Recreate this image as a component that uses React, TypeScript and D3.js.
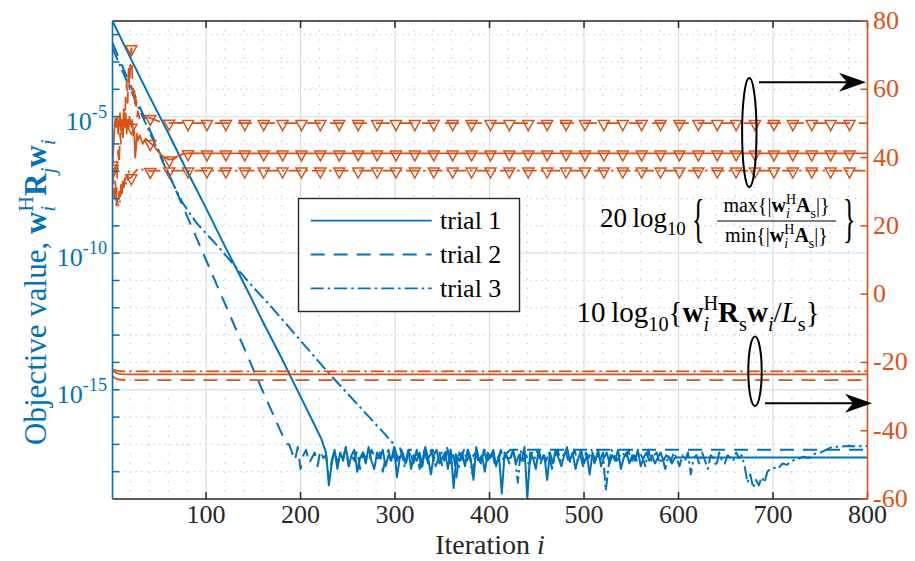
import React from "react";
import * as d3 from "d3";

const FONT = '"Liberation Serif", "DejaVu Serif", "Times New Roman", serif';
const BLUE = "#0072BD";
const ORANGE = "#D95319";
const DARK = "#262626";

// ---------- axes / labels ----------
const xTickValues = [100, 200, 300, 400, 500, 600, 700, 800];
const rightTickValues = [-60, -40, -20, 0, 20, 40, 60, 80];
const leftLabelExponents = [-5, -10, -15];
const leftTickExponents = [-2, -3, -4, -5, -6, -7, -8, -9, -10, -11, -12, -13, -14, -15, -16, -17, -18];
const legendLabels = ["trial 1", "trial 2", "trial 3"];

// ---------- objective value (left axis, log10) ----------
const t1DecayIter = [1, 20, 40, 60, 80, 100, 120, 140, 160, 180, 200, 215, 222];
const t1DecayLog = [-1.5, -2.85, -4.25, -5.6, -7.0, -8.35, -9.75, -11.1, -12.5, -13.85, -15.25, -16.3, -16.8];
const t1NoiseStart = 224;
const t1NoiseLog = [
  -17.0, -17.3, -18.5, -17.7, -17.2, -17.9, -17.3, -17.6, -17.1, -17.8,
  -17.4, -17.2, -18.0, -17.5, -17.3, -17.7, -17.1, -17.6, -17.9, -17.3,
  -17.5, -17.2, -17.8, -17.4, -17.6, -17.1, -18.2, -17.5, -17.3, -17.7,
  -17.2, -17.9, -17.4, -17.6, -17.3, -17.8, -17.1, -17.5, -18.1, -17.4,
  -17.2, -17.7, -17.5, -17.3, -17.9, -17.2, -18.6, -17.4, -17.6, -17.3,
  -17.8, -17.2, -17.5, -18.3, -17.1, -17.6, -17.4, -18.0, -17.3, -17.5,
  -17.2, -17.8, -17.4, -18.8, -17.3, -17.5, -17.5, -17.2, -17.7, -17.4,
  -17.6, -17.1, -19.0, -17.3, -17.5, -17.9, -17.2, -17.6, -17.4, -18.3,
  -17.3, -17.7, -17.2, -17.5, -17.8, -17.4, -17.1, -17.6, -17.3, -17.9,
  -17.5, -17.2, -17.7, -17.4, -18.1, -17.3, -17.6, -17.2, -17.8, -17.5,
  -17.3, -17.7, -17.4, -17.6, -17.2, -17.9, -17.5, -17.3, -17.7, -17.4,
  -17.6, -17.2, -17.8, -17.5, -17.3, -17.6, -17.4, -17.7, -17.5, -17.3,
  -17.6, -17.4, -17.5, -17.7, -17.5, -17.48,
];
const t1TailIter = [800];
const t1TailLog = [-17.48];

const t2DecayIter = [1, 20, 40, 60, 80, 100, 120, 140, 160, 180, 186];
const t2DecayLog = [-2.3, -3.85, -5.45, -7.05, -8.65, -10.25, -11.85, -13.45, -15.05, -16.6, -17.0];
const t2NoiseStart = 188;
const t2NoiseLog = [
  -17.0, -17.3, -17.6, -17.1, -17.9, -17.4, -17.2, -17.7, -17.5, -17.3,
  -17.8, -17.2, -17.5, -17.4, -18.3, -17.6, -17.2, -17.7, -17.3, -17.5,
  -17.1, -17.8, -17.4, -17.6, -17.2, -17.9, -17.3, -17.5, -17.7, -17.2,
  -17.4, -17.6, -17.3, -18.0, -17.5, -17.2, -17.7, -17.4, -17.6, -17.1,
  -17.5, -17.8, -17.3, -17.4, -17.6, -17.2, -17.9, -17.5, -17.3, -17.7,
  -17.2, -17.6, -17.4, -17.3, -17.8, -17.5, -17.2, -17.6, -17.4, -18.2,
  -17.3, -17.5, -17.7, -17.2, -17.6, -17.4, -17.3, -17.8, -17.5, -17.2,
  -17.6, -17.4, -17.3, -17.7, -17.5, -17.2, -17.4, -17.3, -17.2, -17.2,
  -17.2,
];
const t2TailIter = [800];
const t2TailLog = [-17.2];

const t3DecayIter = [1, 20, 40, 60, 75, 90, 110, 130, 150, 170, 190, 210, 230, 250, 270, 290, 296];
const t3DecayLog = [-2.5, -4.0, -5.55, -7.1, -8.15, -8.9, -9.65, -10.45, -11.25, -12.0, -12.8, -13.6, -14.4, -15.15, -15.9, -16.65, -16.9];
const t3NoiseStart = 298;
const t3NoiseLog = [
  -16.95, -17.3, -17.6, -17.2, -17.8, -17.4, -17.1, -17.7, -17.5, -17.3,
  -17.9, -17.2, -17.6, -17.4, -17.2, -17.8, -17.5, -17.3, -17.6, -17.1,
  -17.7, -17.4, -17.3, -17.9, -17.5, -17.2, -17.6, -17.4, -18.1, -17.3,
  -17.5, -17.7, -17.2, -17.6, -17.4, -17.3, -17.8, -17.5, -17.2, -17.6,
  -17.4, -17.7, -17.3, -17.5, -18.4, -17.2, -17.6, -17.4, -17.8, -17.3,
  -17.5, -17.2, -17.7, -17.4, -17.6, -17.3, -17.9, -17.5, -17.2, -17.6,
  -17.4, -17.3, -17.7, -17.5, -17.2, -17.6, -17.4, -17.8, -17.3, -17.5,
  -17.2, -17.7, -17.4, -17.6, -17.3, -18.7, -17.8, -17.2, -17.4, -17.6,
  -17.4, -17.3, -17.5, -17.2, -17.7, -17.4, -17.6, -17.3, -17.5, -17.8,
  -17.2, -17.6, -17.4, -17.3, -17.7, -17.5, -17.9, -17.4, -17.6, -17.3,
  -17.5, -17.8, -17.4, -17.6, -17.3, -18.1, -17.5, -17.4, -17.7, -17.3,
  -17.6, -17.9, -17.4, -17.5, -17.8, -17.3, -17.6, -17.7, -17.4, -17.5,
  -17.6, -17.3, -17.5, -17.4, -17.8, -18.4, -18.1, -18.6, -18.3, -18.5,
  -18.2, -18.4, -18.0, -17.9,
];
const t3TailIter = [700, 705, 710, 715, 720, 726, 732, 738, 744, 750, 756, 762, 770, 780, 790, 800];
const t3TailLog = [-17.85, -17.9, -17.7, -17.75, -17.6, -17.55, -17.45, -17.5, -17.35, -17.3, -17.2, -17.1, -17.08, -17.06, -17.07, -17.06];
const noiseStep = 3;

// ---------- ratio (right axis, dB): 20log10(max/min) ----------
const r1Iter = [1, 2, 3, 4, 5, 6, 7, 8, 9, 10, 11, 12, 13, 14, 15, 16, 17, 18, 19, 20, 21, 22, 23, 24, 25, 26, 27, 28, 30, 33, 36, 41, 45, 50, 55, 61, 66, 70, 75, 81, 100, 800];
const r1Val = [38, 43, 48, 51.5, 49, 52, 47, 50, 53, 48, 51, 46, 52, 49, 53, 47, 51, 48.5, 52, 50, 49, 51, 46.5, 48, 40, 43, 47, 45, 46.5, 44, 45.5, 44.3, 43.3, 41.5, 40.2, 39.4, 39.6, 40.4, 41, 41.3, 41.2, 41.2];
const r2Iter = [1, 2, 3, 4, 5, 6, 7, 8, 9, 10, 11, 12, 13, 14, 15, 16, 17, 18, 19, 20, 21, 22, 23, 24, 25, 26, 27, 28, 30, 34, 41, 50, 61, 81, 800];
const r2Val = [37, 31, 28, 33, 27, 35, 42, 38, 47, 44, 51, 46, 55, 50, 58, 62, 56, 66, 60, 69, 72, 64, 58, 61, 54, 57, 52, 53.5, 51, 52, 51.6, 50.6, 50.2, 50.1, 50.1];
const r3Iter = [1, 2, 3, 4, 5, 6, 7, 8, 9, 10, 11, 12, 13, 14, 15, 16, 17, 18, 19, 21, 24, 28, 33, 41, 61, 800];
const r3Val = [36, 33, 29, 31, 26, 28, 25.5, 30, 27, 32, 29, 33, 30.5, 34, 32, 35, 33.5, 36, 34, 34.2, 35.5, 36.8, 36.5, 36.1, 36.2, 36.2];

// ---------- 10log10(w^H Rs w / Ls) (right axis, dB) ----------
const p1Iter = [1, 3, 6, 10, 15, 800];
const p1Val = [-22.3, -22.8, -23.2, -23.4, -23.5, -23.5];
const p2Iter = [1, 4, 8, 15, 800];
const p2Val = [-24.0, -24.7, -25.0, -25.2, -25.2];
const p3Iter = [1, 5, 12, 800];
const p3Val = [-22.0, -22.4, -22.6, -22.6];

const markerIters = d3.range(1, 800, 20);

type Pt = [number, number];
const zipPts = (it: number[], v: number[]): Pt[] => it.map((d, k) => [d, v[k]] as Pt);
function objSeries(dI: number[], dL: number[], nStart: number, nL: number[], tI: number[], tL: number[]): Pt[] {
  const pts = zipPts(dI, dL);
  nL.forEach((v, k) => pts.push([nStart + noiseStep * k, v]));
  return pts.concat(zipPts(tI, tL));
}

const objectiveSeries = [
  objSeries(t1DecayIter, t1DecayLog, t1NoiseStart, t1NoiseLog, t1TailIter, t1TailLog),
  objSeries(t2DecayIter, t2DecayLog, t2NoiseStart, t2NoiseLog, t2TailIter, t2TailLog),
  objSeries(t3DecayIter, t3DecayLog, t3NoiseStart, t3NoiseLog, t3TailIter, t3TailLog),
];
const ratioSeries = [zipPts(r1Iter, r1Val), zipPts(r2Iter, r2Val), zipPts(r3Iter, r3Val)];
const powerSeries = [zipPts(p1Iter, p1Val), zipPts(p2Iter, p2Val), zipPts(p3Iter, p3Val)];

const DASHES = [undefined, "14 9", "13 4 2.5 4"];

// ---------- layout ----------
const L = 112.5, R = 867.5, T = 21, B = 499;
const x = d3.scaleLinear().domain([1, 800]).range([L, R]);
const yL = d3.scaleLog().domain([1e-19, Math.pow(10, -1.5)]).range([B, T]);
const yR = d3.scaleLinear().domain([-60, 80]).range([B, T]);

const objLine = d3.line<Pt>().x((d) => x(d[0])).y((d) => yL(Math.pow(10, d[1])));
const dbLine = d3.line<Pt>().x((d) => x(d[0])).y((d) => yR(d[1]));

function valueAt(s: Pt[], it: number) {
  for (let k = 0; k < s.length - 1; k++) {
    if (it >= s[k][0] && it <= s[k + 1][0]) {
      const f = (it - s[k][0]) / (s[k + 1][0] - s[k][0]);
      return s[k][1] + f * (s[k + 1][1] - s[k][1]);
    }
  }
  return s[s.length - 1][1];
}

type Tok = { t: string; b?: boolean; it?: boolean; pos?: "sub" | "sup"; dx?: number };
function MathText({ toks, fs, sup = 0.42, sub = 0.3, ...rest }: any) {
  let cur = 0;
  return (
    <text fontSize={fs} {...rest}>
      {(toks as Tok[]).map((k, i) => {
        const target = k.pos === "sub" ? sub * fs : k.pos === "sup" ? -sup * fs : 0;
        const dy = target - cur;
        cur = target;
        return (
          <tspan
            key={i}
            dy={dy !== 0 ? dy : undefined}
            dx={k.dx}
            fontWeight={k.b ? "bold" : undefined}
            fontStyle={k.it ? "italic" : undefined}
            fontSize={k.pos ? fs * 0.7 : fs}
          >
            {k.t}
          </tspan>
        );
      })}
    </text>
  );
}

function Arrow({ x1, x2, y }: { x1: number; x2: number; y: number }) {
  const hl = 27, hw = 9.5, notch = 8;
  return (
    <g>
      <line x1={x1} x2={x2 - hl + notch} y1={y} y2={y} stroke="#000" strokeWidth={2} />
      <polygon
        points={`${x2},${y} ${x2 - hl},${y - hw} ${x2 - hl + notch},${y} ${x2 - hl},${y + hw}`}
        fill="#000"
      />
    </g>
  );
}

export default function App() {
  const minorX = d3.range(20, 800, 20).filter((v) => v % 100 !== 0);
  const fsTick = 26;
  const iSub = (fs: number) => -0.278 * 0.7 * fs;

  const ylabelToks: Tok[] = [
    { t: "Objective value, " },
    { t: "w", b: true },
    { t: "i", it: true, pos: "sub" },
    { t: "H", pos: "sup", dx: iSub(31) },
    { t: "R", b: true },
    { t: "j", it: true, pos: "sub" },
    { t: "w", b: true },
    { t: "i", it: true, pos: "sub" },
  ];
  const ann2Toks: Tok[] = [
    { t: "10\u2009log" },
    { t: "10", pos: "sub" },
    { t: "{" },
    { t: "w", b: true },
    { t: "i", it: true, pos: "sub" },
    { t: "H", pos: "sup", dx: iSub(29) },
    { t: "R", b: true },
    { t: "s", pos: "sub" },
    { t: "w", b: true },
    { t: "i", it: true, pos: "sub" },
    { t: "/" },
    { t: "L", it: true },
    { t: "s", pos: "sub" },
    { t: "}" },
  ];
  const fracToks = (op: string): Tok[] => [
    { t: op + "{|" },
    { t: "w", b: true },
    { t: "i", it: true, pos: "sub" },
    { t: "H", pos: "sup", dx: iSub(20) },
    { t: "A", b: true },
    { t: "s", pos: "sub" },
    { t: "|}" },
  ];

  return (
    <svg
      width={915}
      height={561}
      style={{ position: "absolute", left: 0, top: 0, background: "#fff", fontFamily: FONT }}
    >
      <style>{`text, tspan { font-family: ${FONT}; }`}</style>
      <rect x={0} y={0} width={915} height={561} fill="#fff" />
      <defs>
        <clipPath id="plotclip">
          <rect x={L} y={T} width={R - L} height={B - T} />
        </clipPath>
      </defs>

      {/* grid */}
      <g>
        {minorX.map((v) => (
          <line key={"mx" + v} x1={x(v)} x2={x(v)} y1={T} y2={B} stroke="#bdbdbd" strokeWidth={1.2} strokeDasharray="1.2 8" />
        ))}
        {leftTickExponents
          .filter((e) => !leftLabelExponents.includes(e))
          .map((e) => (
            <line key={"my" + e} x1={L} x2={R} y1={yL(Math.pow(10, e))} y2={yL(Math.pow(10, e))} stroke="#b6d4ea" strokeWidth={1.2} strokeDasharray="1.3 4.5" />
          ))}
        {xTickValues
          .filter((v) => v < 800)
          .map((v) => (
            <line key={"gx" + v} x1={x(v)} x2={x(v)} y1={T} y2={B} stroke="#dcdcdc" strokeWidth={1.2} />
          ))}
        {leftLabelExponents.map((e) => (
          <line key={"gy" + e} x1={L} x2={R} y1={yL(Math.pow(10, e))} y2={yL(Math.pow(10, e))} stroke="#d5e6f3" strokeWidth={1.4} />
        ))}
      </g>

      {/* data */}
      <g clipPath="url(#plotclip)" fill="none">
        {objectiveSeries.map((s, k) => (
          <path key={"obj" + k} d={objLine(s) || ""} stroke={BLUE} strokeWidth={2} strokeDasharray={DASHES[k]} strokeLinejoin="round" />
        ))}
        {powerSeries.map((s, k) => (
          <path key={"pw" + k} d={dbLine(s) || ""} stroke={ORANGE} strokeWidth={1.8} strokeDasharray={DASHES[k]} />
        ))}
        {ratioSeries.map((s, k) => (
          <path key={"rt" + k} d={dbLine(s) || ""} stroke={ORANGE} strokeWidth={1.8} strokeDasharray={DASHES[k]} strokeLinejoin="round" />
        ))}
        {ratioSeries.map((s, k) =>
          markerIters.map((it) => {
            const cx = x(it);
            const cy = yR(valueAt(s, it));
            return (
              <polygon
                key={"mk" + k + "_" + it}
                points={`${cx - 5.5},${cy - 2.5} ${cx + 5.5},${cy - 2.5} ${cx},${cy + 7.5}`}
                fill="none"
                stroke={ORANGE}
                strokeWidth={1.5}
                strokeLinejoin="miter"
              />
            );
          })
        )}
      </g>

      {/* axes */}
      <line x1={L} x2={R} y1={B} y2={B} stroke={DARK} strokeWidth={1.5} />
      <line x1={L} x2={R} y1={T} y2={T} stroke={DARK} strokeWidth={1.5} />
      {xTickValues.map((v) => (
        <g key={"xt" + v}>
          <line x1={x(v)} x2={x(v)} y1={B} y2={B - 7} stroke={DARK} strokeWidth={1.5} />
          <line x1={x(v)} x2={x(v)} y1={T} y2={T + 7} stroke={DARK} strokeWidth={1.5} />
          <text x={x(v)} y={523} textAnchor="middle" fontSize={fsTick} fill={DARK}>
            {v}
          </text>
        </g>
      ))}
      <line x1={L} x2={L} y1={T} y2={B} stroke={BLUE} strokeWidth={1.6} />
      {leftTickExponents.map((e) => (
        <line key={"lt" + e} x1={L} x2={L + 7} y1={yL(Math.pow(10, e))} y2={yL(Math.pow(10, e))} stroke={BLUE} strokeWidth={1.5} />
      ))}
      {leftLabelExponents.map((e) => (
        <MathText
          key={"ll" + e}
          toks={[{ t: "10" }, { t: "-" + Math.abs(e), pos: "sup" }]}
          fs={fsTick}
          sup={0.46}
          x={107}
          y={yL(Math.pow(10, e)) + 13}
          textAnchor="end"
          fill={BLUE}
        />
      ))}
      <line x1={R} x2={R} y1={T} y2={B} stroke={ORANGE} strokeWidth={1.6} />
      {rightTickValues.map((v) => (
        <g key={"rt" + v}>
          <line x1={R} x2={R - 7} y1={yR(v)} y2={yR(v)} stroke={ORANGE} strokeWidth={1.5} />
          <text x={873} y={yR(v) + 8} fontSize={fsTick} fill={ORANGE}>
            {v}
          </text>
        </g>
      ))}

      {/* axis labels */}
      <text x={490} y={554} textAnchor="middle" fontSize={28} fill={DARK}>
        Iteration <tspan fontStyle="italic">i</tspan>
      </text>
      <MathText toks={ylabelToks} fs={31} transform="translate(46,292) rotate(-90)" textAnchor="middle" fill={BLUE} />

      {/* legend */}
      <g>
        <rect x={298.5} y={198.5} width={221} height={113} fill="#fff" stroke={DARK} strokeWidth={1.4} />
        {legendLabels.map((lab, k) => {
          const yy = 220.7 + k * 33.8;
          return (
            <g key={lab}>
              <line x1={310.7} x2={431.7} y1={yy} y2={yy} stroke={BLUE} strokeWidth={1.8} strokeDasharray={DASHES[k]} />
              <text x={440} y={yy + 8.5} fontSize={26} fill="#000">
                {lab}
              </text>
            </g>
          );
        })}
      </g>

      {/* annotations */}
      <ellipse cx={749.3} cy={132.5} rx={7.2} ry={54.5} fill="none" stroke="#000" strokeWidth={2} />
      <Arrow x1={759} x2={866} y={82.3} />
      <ellipse cx={755} cy={371.3} rx={6.7} ry={34.7} fill="none" stroke="#000" strokeWidth={2} />
      <Arrow x1={765} x2={872} y={403.3} />

      <MathText toks={[{ t: "20\u2009log" }, { t: "10", pos: "sub" }]} fs={27} x={600} y={227} fill="#000" />
      <text transform="translate(692,236) scale(0.5,1)" fontSize={52} fill="#000">
        {"{"}
      </text>
      <MathText toks={fracToks("max")} fs={20} x={776.5} y={212} textAnchor="middle" fill="#000" />
      <line x1={717} x2={836} y1={221} y2={221} stroke="#000" strokeWidth={1.2} />
      <MathText toks={fracToks("min")} fs={20} x={776.5} y={242} textAnchor="middle" fill="#000" />
      <text transform="translate(843,236) scale(0.5,1)" fontSize={52} fill="#000">
        {"}"}
      </text>

      <MathText toks={ann2Toks} fs={29} x={698} y={322} textAnchor="middle" fill="#000" />
    </svg>
  );
}
